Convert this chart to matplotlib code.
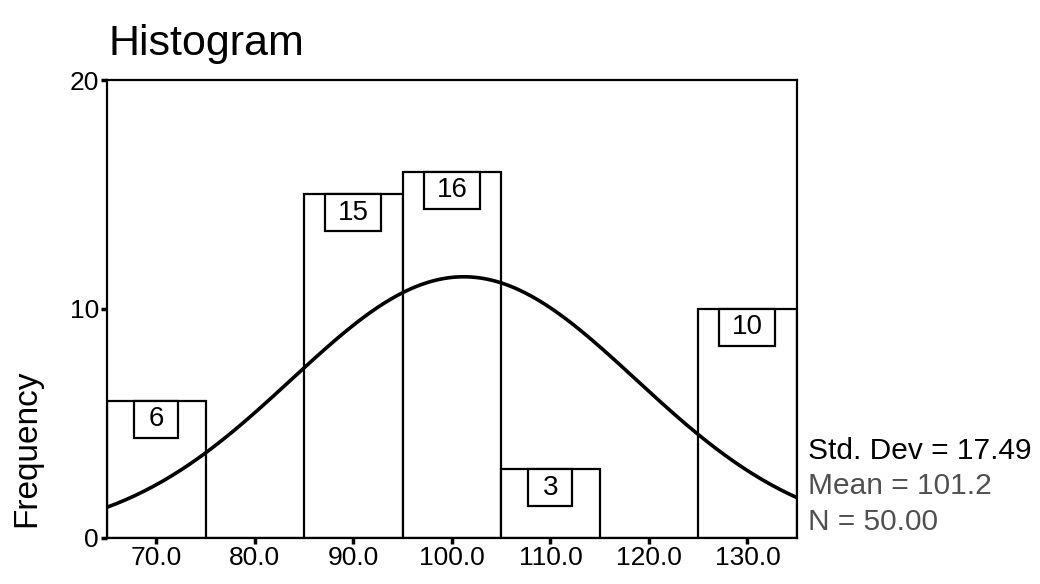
import numpy as np
import matplotlib
matplotlib.use('Agg')
import matplotlib.pyplot as plt
from matplotlib.patches import Rectangle

plt.rcParams['font.family'] = ['Liberation Sans', 'DejaVu Sans']

# Datos del histograma
bin_edges = [65, 75, 85, 95, 105, 115, 125, 135]
counts = [6, 0, 15, 16, 3, 0, 10]
x_ticks = [70, 80, 90, 100, 110, 120, 130]
y_ticks = [0, 10, 20]
std_dev = 17.49
mean = 101.2
n_total = 50

fig = plt.figure(figsize=(10.4, 5.84), dpi=100)
ax = fig.add_axes([0.103, 0.079, 0.663, 0.784])

# Barras
widths = np.diff(bin_edges)
ax.bar(bin_edges[:-1], counts, width=widths, align='edge', color='white',
       edgecolor='black', linewidth=1.6, zorder=2)

# Curva normal
xs = np.linspace(bin_edges[0], bin_edges[-1], 300)
ys = n_total * widths[0] / (std_dev * np.sqrt(2 * np.pi)) * np.exp(-0.5 * ((xs - mean) / std_dev) ** 2)
ax.plot(xs, ys, color='black', linewidth=2.6, zorder=3)

ax.set_xlim(bin_edges[0], bin_edges[-1])
ax.set_ylim(0, 20)

# Cajas con los conteos
fig.canvas.draw()
bb = ax.get_window_extent()
dx = (bin_edges[-1] - bin_edges[0]) / bb.width
dy = 20 / bb.height
for left, w, c in zip(bin_edges[:-1], widths, counts):
    if c == 0:
        continue
    cx = left + w / 2
    bw = (44 + 12 * (len(str(c)) - 1)) * dx
    bh = 37 * dy
    ax.add_patch(Rectangle((cx - bw / 2, c - bh), bw, bh, facecolor='white',
                           edgecolor='black', linewidth=1.6, zorder=4))
    ax.text(cx, c - bh / 2, str(c), ha='center', va='center', fontsize=20, zorder=5)

ax.set_xticks(x_ticks)
ax.set_xticklabels([f'{t:.1f}' for t in x_ticks], fontsize=19)
ax.set_yticks(y_ticks)
ax.set_yticklabels([str(t) for t in y_ticks], fontsize=19)
ax.tick_params(axis='both', direction='out', length=4, width=2.5, pad=2)
for s in ax.spines.values():
    s.set_linewidth(1.6)

fig.text(0.011, 0.232, 'Frequency', rotation=90, fontsize=24, va='center', ha='left')
fig.text(0.104, 0.905, 'Histogram', fontsize=31, ha='left', va='baseline')

fig.text(0.777, 0.214, 'Std. Dev = 17.49', fontsize=21.5, color='black', va='baseline')
fig.text(0.777, 0.154, 'Mean = 101.2', fontsize=21.5, color='#505050', va='baseline')
fig.text(0.777, 0.093, 'N = 50.00', fontsize=21.5, color='#505050', va='baseline')

fig.savefig('out.png', dpi=100)
